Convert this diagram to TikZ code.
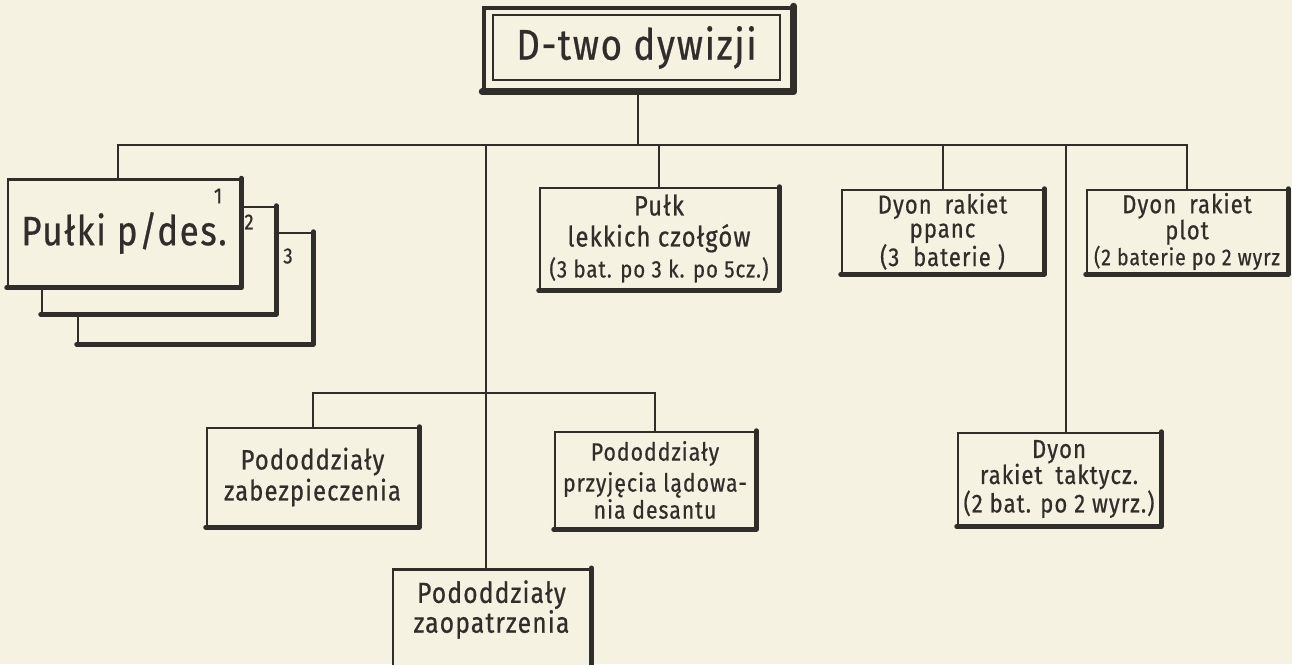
\documentclass[tikz,border=0pt]{standalone}
\usepackage{fontspec}
\setmainfont{Fira Sans}
\newfontfamily\hand[FakeStretch=0.85,LetterSpace=4,FakeBold=0.6]{Fira Sans}
\definecolor{paper}{RGB}{246,242,226}
\definecolor{ink}{RGB}{48,46,42}
\newcommand\heavyedge[2][5pt]{\draw[ink, line width=#1, line cap=round, line join=round] (#2.north east) -- (#2.south east) -- (#2.south west);}
\newcommand\fs[2]{\fontsize{#1}{#2}\selectfont}
\begin{document}
\begin{tikzpicture}[x=1pt,y=-1pt,
  box/.style={draw=ink, line width=2.5pt, fill=paper, inner sep=0pt, align=center, text=ink, font=\hand\fs{26}{29}},
  conn/.style={draw=ink, line width=2pt},
  num/.style={text=ink, font=\hand\fs{22}{22}, inner sep=0pt}]
\useasboundingbox (0,0) rectangle (1292,664);
\fill[paper] (0,0) rectangle (1292,664);
\clip (0,0) rectangle (1292,664);

% top box
\node[box, line width=3.5pt, minimum width=308, minimum height=82] (divouter) at (638,49) {};
\heavyedge[7pt]{divouter}
\node[box, minimum width=287, minimum height=65, font=\hand\fs{43}{46}] (div) at (636.5,47.5) {D-two dywizji};

% Pułki p/des. stack
\node[box, minimum width=234, minimum height=110] (pulki3) at (195,288) {};
\heavyedge{pulki3}
\node[box, minimum width=233, minimum height=106] (pulki2) at (158.5,260) {};
\heavyedge{pulki2}
\node[box, minimum width=232, minimum height=107, font=\hand\fs{41}{44}] (pulki1) at (124,233) {Pułki p/des.};
\heavyedge{pulki1}
\node[num] (n1) at (218,196) {1};
\node[num] (n2) at (249,222) {2};
\node[num] (n3) at (288,256) {3};

% top row
\node[box, minimum width=238, minimum height=101, font=\hand\fs{28}{31}] (pulk) at (659,238.5) {Pułk\\lekkich czołgów\\{\fs{24}{31}(3 bat. po 3 k. po 5cz.)}};
\heavyedge{pulk}
\node[box, minimum width=201, minimum height=83, font=\hand\fs{26}{24}] (ppanc) at (942.5,231.5) {Dyon\enskip rakiet\\ppanc\\(3~~baterie~)};
\heavyedge{ppanc}
\node[box, minimum width=200, minimum height=83, font=\hand\fs{26}{24}] (plot) at (1187,231.5) {Dyon\enskip rakiet\\plot\\{\fs{23}{24}(2 baterie po 2 wyrz}};
\heavyedge{plot}

% lower row
\node[box, minimum width=211, minimum height=98, font=\hand\fs{28}{31}] (zabez) at (312.5,477) {Pododdziały\\zabezpieczenia};
\heavyedge{zabez}
\node[box, minimum width=200, minimum height=96, font=\hand\fs{25}{27}] (przyj) at (655,480) {\raisebox{4pt}{Pododdziały}\\przyjęcia lądowa-\\nia desantu};
\heavyedge{przyj}
\node[box, minimum width=202, minimum height=92, font=\hand\fs{26}{26}] (takt) at (1059,479) {Dyon\\rakiet\enskip taktycz.\\(2 bat. po 2 wyrz.)};
\heavyedge{takt}
\node[box, anchor=north, minimum width=197, inner ysep=11pt, text depth=90pt, font=\hand\fs{29}{28}] (zaop) at (491.5,568) {Pododdziały\\zaopatrzenia};
\heavyedge{zaop}

% connectors
\coordinate (bus) at (0,145);
\coordinate (sub) at (0,393);
\draw[conn] (divouter.south) -- (divouter.south |- bus);
\draw[conn] ([xshift=-6pt]pulki1.north) |- (bus -| plot.north) -- (plot.north);
\draw[conn] (pulk.north) -- (pulk.north |- bus);
\draw[conn] (ppanc.north) -- (ppanc.north |- bus);
\draw[conn] ([xshift=-6pt]zaop.north) -- ([xshift=-6pt]zaop.north |- bus);
\draw[conn] ([xshift=7pt]takt.north) -- ([xshift=7pt]takt.north |- bus);
\draw[conn] (zabez.north) |- (sub -| przyj.north) -- (przyj.north);
\end{tikzpicture}
\end{document}
